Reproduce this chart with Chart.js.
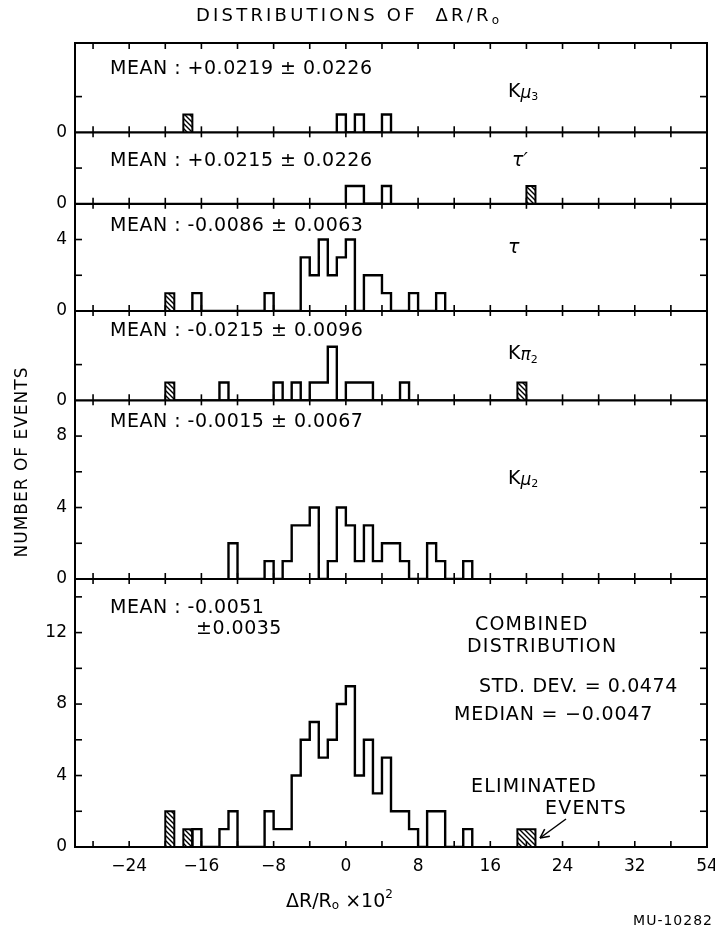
<!DOCTYPE html>
<html><head><meta charset="utf-8">
<script src="https://cdn.jsdelivr.net/npm/chart.js@4.4.0/dist/chart.umd.min.js"></script>
<style>html,body{margin:0;padding:0;background:#fff}#wrap{width:715px;height:932px;position:relative}</style>
</head><body><div id="wrap"><canvas id="c" width="715" height="932"></canvas></div>
<script>
// ---------------- DATA (ΔR/R0 × 10², bins 1 unit wide, value = left edge) ----------------
const xTickValues = [-24, -16, -8, 0, 8, 16, 24, 32, 40];
const xTickLabels = ['−24', '−16', '−8', '0', '8', '16', '24', '32', '54'];
const xTickMarks = [-28, -24, -20, -16, -12, -8, -4, 0, 4, 8, 12, 16, 20, 24, 28, 32, 36];

const panelIds = ['kmu3', 'tauP', 'tau', 'kpi2', 'kmu2', 'comb'];
const panelMax = [5, 4, 6, 5, 10, 15];
const panelYTicks = [[0, 2], [0, 2], [0, 2, 4], [0, 2], [0, 2, 4, 6, 8], [0, 2, 4, 6, 8, 10, 12, 14]];
const panelYLabels = [[0], [0], [0, 4], [0], [0, 4, 8], [0, 4, 8, 12]];

const kmu3Bins = [-1, 1, 4];
const kmu3Counts = [1, 1, 1];
const kmu3ElimBins = [-18];
const kmu3ElimCounts = [1];

const tauPBins = [0, 1, 4];
const tauPCounts = [1, 1, 1];
const tauPElimBins = [20];
const tauPElimCounts = [1];

const tauBins = [-17, -9, -5, -4, -3, -2, -1, 0, 2, 3, 4, 7, 10];
const tauCounts = [1, 1, 3, 2, 4, 2, 3, 4, 2, 2, 1, 1, 1];
const tauElimBins = [-20];
const tauElimCounts = [1];

const kpi2Bins = [-14, -8, -6, -4, -3, -2, 0, 1, 2, 6];
const kpi2Counts = [1, 1, 1, 1, 1, 3, 1, 1, 1, 1];
const kpi2ElimBins = [-20, 19];
const kpi2ElimCounts = [1, 1];

const kmu2Bins = [-13, -9, -7, -6, -5, -4, -2, -1, 0, 1, 2, 3, 4, 5, 6, 9, 10, 13];
const kmu2Counts = [2, 1, 1, 3, 3, 4, 1, 4, 3, 1, 3, 1, 2, 2, 1, 2, 1, 1];
const kmu2ElimBins = [];
const kmu2ElimCounts = [];

const combBins = [-17, -14, -13, -9, -8, -7, -6, -5, -4, -3, -2, -1, 0, 1, 2, 3, 4, 5, 6, 7, 9, 10, 13];
const combCounts = [1, 1, 2, 2, 1, 1, 4, 6, 7, 5, 6, 8, 9, 4, 6, 3, 5, 2, 2, 1, 2, 2, 1];
const combElimBins = [-20, -18, 19, 20];
const combElimCounts = [2, 1, 1, 1];

const meanTexts = ['MEAN : +0.0219 ± 0.0226', 'MEAN : +0.0215 ± 0.0226', 'MEAN : -0.0086 ± 0.0063',
                   'MEAN : -0.0215 ± 0.0096', 'MEAN : -0.0015 ± 0.0067', 'MEAN : -0.0051'];

// ---------------- BUILD ----------------
const allBins = [kmu3Bins, tauPBins, tauBins, kpi2Bins, kmu2Bins, combBins];
const allCounts = [kmu3Counts, tauPCounts, tauCounts, kpi2Counts, kmu2Counts, combCounts];
const allElimBins = [kmu3ElimBins, tauPElimBins, tauElimBins, kpi2ElimBins, kmu2ElimBins, combElimBins];
const allElimCounts = [kmu3ElimCounts, tauPElimCounts, tauElimCounts, kpi2ElimCounts, kmu2ElimCounts, combElimCounts];

function stepPoints(bins, counts) {
  const pts = [];
  let prevEnd = null;
  bins.forEach((b, i) => {
    if (prevEnd !== b) {
      if (prevEnd !== null) pts.push({x: prevEnd, y: 0});
      pts.push({x: b, y: 0});
    }
    pts.push({x: b, y: counts[i]});
    prevEnd = b + 1;
  });
  if (prevEnd !== null) pts.push({x: prevEnd, y: 0});
  return pts;
}

function hatchPattern() {
  const s = 5;
  const c = document.createElement('canvas');
  c.width = s; c.height = s;
  const g = c.getContext('2d');
  g.strokeStyle = '#000'; g.lineWidth = 1.4;
  g.beginPath();
  g.moveTo(-1, -1); g.lineTo(s + 1, s + 1);
  g.moveTo(-1, s - 1); g.lineTo(1, s + 1);
  g.moveTo(s - 1, -1); g.lineTo(s + 1, 1);
  g.stroke();
  return c.getContext('2d').createPattern(c, 'repeat');
}
const hatch = hatchPattern();

const datasets = [];
panelIds.forEach((id, i) => {
  datasets.push({
    data: stepPoints(allBins[i], allCounts[i]), yAxisID: id, stepped: true,
    borderColor: '#000', borderWidth: 2.4, pointRadius: 0, fill: false, tension: 0
  });
  if (allElimBins[i].length) {
    datasets.push({
      data: stepPoints(allElimBins[i], allElimCounts[i]), yAxisID: id, stepped: true,
      borderColor: '#000', borderWidth: 2, pointRadius: 0, fill: 'origin', backgroundColor: hatch, tension: 0
    });
  }
});

const FONT = '"DejaVu Sans", sans-serif';
const scales = {
  x: {
    type: 'linear', min: -30, max: 40, position: 'bottom',
    grid: {display: false, drawTicks: false}, border: {display: false},
    afterBuildTicks: s => { s.ticks = xTickValues.map(v => ({value: v})); },
    afterFit: s => { s.height = 40; s.paddingLeft = 0; s.paddingRight = 0; },
    ticks: {
      autoSkip: false, maxRotation: 0, padding: 9, color: '#000',
      font: {family: FONT, size: 17},
      callback: (v) => { const k = xTickValues.indexOf(v); return k >= 0 ? xTickLabels[k] : ''; }
    }
  }
};
panelIds.forEach((id, i) => {
  scales[id] = {
    type: 'linear', position: 'left', stack: 'panels', stackWeight: panelMax[i], weight: 10 - i,
    min: 0, max: panelMax[i],
    grid: {display: false, drawTicks: false}, border: {display: false},
    afterBuildTicks: s => { s.ticks = panelYTicks[i].map(v => ({value: v})); },
    afterFit: s => { s.width = 35; s.paddingTop = 0; s.paddingBottom = 0; },
    ticks: {
      padding: 8, color: '#000', font: {family: FONT, size: 17},
      callback: (v) => panelYLabels[i].includes(v) ? String(v) : ''
    }
  };
});

function line(ctx, x1, y1, x2, y2) { ctx.beginPath(); ctx.moveTo(x1, y1); ctx.lineTo(x2, y2); ctx.stroke(); }
function txt(ctx, s, x, y, size, opt = {}) {
  ctx.font = (opt.italic ? 'italic ' : '') + size + 'px ' + FONT;
  ctx.letterSpacing = (opt.ls || 0) + 'px';
  ctx.textAlign = opt.align || 'left';
  ctx.textBaseline = 'middle';
  ctx.fillText(s, x, y);
  return ctx.measureText(s).width;
}
function runs(ctx, parts, x, y) {
  let cx = x;
  parts.forEach(p => { cx += txt(ctx, p[0], cx, y + (p[3] || 0), p[1], {italic: p[2]}); });
}

const decor = {
  id: 'decor',
  afterDatasetsDraw(chart) {
    const ctx = chart.ctx, ca = chart.chartArea, xs = chart.scales.x;
    ctx.save();
    ctx.strokeStyle = '#000'; ctx.fillStyle = '#000'; ctx.lineWidth = 2;
    ctx.strokeRect(ca.left, ca.top, ca.right - ca.left, ca.bottom - ca.top);
    ctx.lineWidth = 1.6;
    xTickMarks.forEach(v => { const px = xs.getPixelForValue(v); line(ctx, px, ca.top, px, ca.top + 6); });
    panelIds.forEach((id, i) => {
      const ys = chart.scales[id];
      const yb = ys.getPixelForValue(0);
      ctx.lineWidth = 2.2;
      line(ctx, ca.left, yb, ca.right, yb);
      ctx.lineWidth = 1.6;
      const down = i === panelIds.length - 1 ? 0 : 5;
      xTickMarks.forEach(v => { const px = xs.getPixelForValue(v); line(ctx, px, yb - 6, px, yb + down); });
      panelYTicks[i].forEach(v => {
        if (v === 0) return;
        const py = ys.getPixelForValue(v);
        line(ctx, ca.left, py, ca.left + 7, py);
        line(ctx, ca.right - 7, py, ca.right, py);
      });
    });
    // texts
    const meanY = [69, 161, 226, 331, 422, 608];
    meanTexts.forEach((t, i) => txt(ctx, t, 110, meanY[i], 19, {ls: 0.5}));
    txt(ctx, '±0.0035', 196, 629, 19, {ls: 0.5});
    runs(ctx, [['K', 19], ['μ', 17, true, 2], ['3', 11, false, 5]], 508, 92);
    runs(ctx, [['τ′', 19, true]], 512, 161);
    runs(ctx, [['τ', 19, true]], 508, 248);
    runs(ctx, [['K', 19], ['π', 17, true, 2], ['2', 11, false, 6]], 508, 354);
    runs(ctx, [['K', 19], ['μ', 17, true, 2], ['2', 11, false, 5]], 508, 479);
    txt(ctx, 'COMBINED', 475, 625, 19, {ls: 1.2});
    txt(ctx, 'DISTRIBUTION', 467, 647, 19, {ls: 1.2});
    txt(ctx, 'STD. DEV. = 0.0474', 479, 687, 19, {ls: 0.6});
    txt(ctx, 'MEDIAN = −0.0047', 454, 715, 19, {ls: 0.8});
    txt(ctx, 'ELIMINATED', 471, 787, 19, {ls: 1.2});
    txt(ctx, 'EVENTS', 545, 809, 19, {ls: 1.2});
    // arrow
    ctx.lineWidth = 1.5;
    const ax1 = 566, ay1 = 819, ax2 = 540, ay2 = 838;
    line(ctx, ax1, ay1, ax2, ay2);
    const ang = Math.atan2(ay2 - ay1, ax2 - ax1);
    [0.45, -0.45].forEach(d => line(ctx, ax2, ay2, ax2 - 10 * Math.cos(ang + d), ay2 - 10 * Math.sin(ang + d)));
    // title
    txt(ctx, 'DISTRIBUTIONS OF  ΔR/R', 196, 16, 18, {ls: 3.2});
    const tw = ctx.measureText('DISTRIBUTIONS OF  ΔR/R').width;
    txt(ctx, 'o', 196 + tw, 21, 12);
    // x axis title
    runs(ctx, [['ΔR/R', 19], ['o', 12, false, 4], [' ×10', 19], ['2', 12, false, -7]], 286, 902);
    txt(ctx, 'MU-10282', 713, 921, 14, {ls: 1, align: 'right'});
    // y axis title
    ctx.save();
    ctx.translate(23, 462); ctx.rotate(-Math.PI / 2);
    txt(ctx, 'NUMBER OF EVENTS', 0, 0, 17, {ls: 1, align: 'center'});
    ctx.restore();
    ctx.restore();
  }
};

new Chart(document.getElementById('c'), {
  type: 'line',
  data: {datasets},
  options: {
    responsive: false, animation: false, events: [],
    layout: {padding: {left: 40, right: 8, top: 43, bottom: 45}},
    plugins: {legend: {display: false}, tooltip: {enabled: false}, title: {display: false}},
    scales
  },
  plugins: [decor]
});
</script></body></html>
